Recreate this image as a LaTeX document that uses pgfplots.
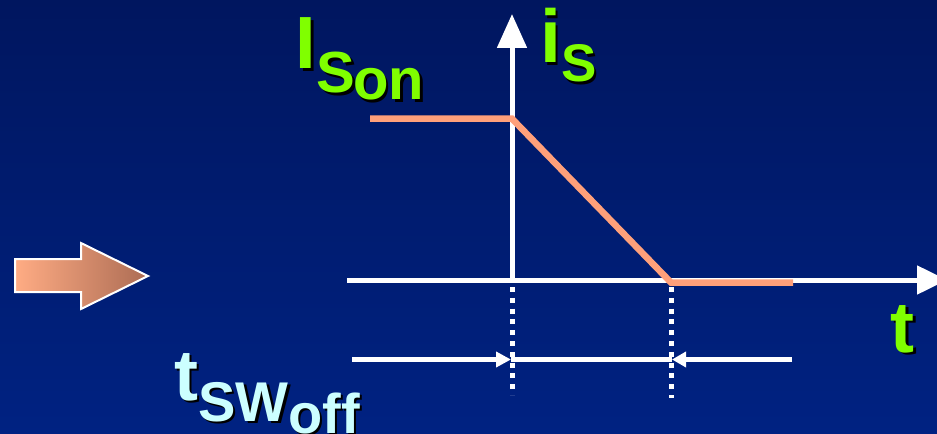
\documentclass[border=0pt]{standalone}
\usepackage{pgfplots}
\pgfplotsset{compat=1.18}
\usepackage{fontspec}
\setmainfont{Liberation Sans}
\usetikzlibrary{arrows.meta}
\definecolor{bgtop}{RGB}{0,22,95}
\definecolor{bgbot}{RGB}{0,34,130}
\definecolor{lgreen}{RGB}{128,255,0}
\definecolor{lcyan}{RGB}{204,255,255}
\definecolor{salmonline}{RGB}{255,160,122}
\definecolor{arrL}{RGB}{255,172,132}
\definecolor{arrR}{RGB}{172,108,84}
\newcommand{\shtext}[5]{%
  \node[anchor=base west,inner sep=0pt,text=black,xshift=2.5bp,yshift=-2.5bp] at (axis cs:#1,#2) {\fontsize{#3bp}{#3bp}\selectfont\bfseries #5};%
  \node[anchor=base west,inner sep=0pt,text=#4] at (axis cs:#1,#2) {\fontsize{#3bp}{#3bp}\selectfont\bfseries #5};%
}
\begin{document}
\begin{tikzpicture}
\begin{axis}[
  width=937bp, height=434bp, scale only axis,
  xmin=0, xmax=937, ymin=0, ymax=434, y dir=reverse,
  axis lines=none, clip=false,
  axis background/.style={top color=bgtop, bottom color=bgbot},
]
% bounding coordinates
\coordinate (ll) at (axis cs:0,434);
\coordinate (ur) at (axis cs:937,0);
% left block arrow
\shade[left color=arrL, right color=arrR, draw=white, line width=2bp, line join=miter]
  (axis cs:15,259) -- (axis cs:81,259) -- (axis cs:81,243) -- (axis cs:148,276)
  -- (axis cs:81,309) -- (axis cs:81,292) -- (axis cs:15,292) -- cycle;
% axes
\draw[white, line width=5bp, -{Triangle[length=30bp,width=28bp]}] (axis cs:347,280) -- (axis cs:947,280);
\draw[white, line width=5bp, -{Triangle[length=34bp,width=29bp]}] (axis cs:512,282) -- (axis cs:512,14);
% dotted markers
\draw[white, line width=5bp, dash pattern=on 5bp off 5.8bp] (axis cs:512,287) -- (axis cs:512,395);
\draw[white, line width=5bp, dash pattern=on 5bp off 5.8bp] (axis cs:671,287) -- (axis cs:671,398);
% measurement line
\draw[white, line width=4.5bp, -{Triangle[length=15bp,width=15bp]}] (axis cs:352,359.5) -- (axis cs:511,359.5);
\draw[white, line width=4.5bp] (axis cs:511,359.5) -- (axis cs:672,359.5);
\draw[white, line width=4.5bp, -{Triangle[length=14bp,width=15bp]}] (axis cs:792,359.5) -- (axis cs:672,359.5);
% switch current
\addplot[salmonline, line width=6.5bp, line join=miter] coordinates {(370,118.7) (512,118.7) (671,282.5) (793,282.5)};
% labels
\shtext{295.3}{69}{74}{lgreen}{I}
\shtext{316.7}{93}{58}{lgreen}{S}
\shtext{353}{100}{58}{lgreen}{on}
\shtext{540}{63}{75}{lgreen}{i}
\shtext{561}{82}{53}{lgreen}{S}
\shtext{890.5}{352}{72}{lgreen}{t}
\shtext{174}{400}{72}{lcyan}{t}
\shtext{198}{421}{56}{lcyan}{SW}
\shtext{288}{433}{56}{lcyan}{off}
\end{axis}
\pgfresetboundingbox
\useasboundingbox (ll) rectangle (ur);
\end{tikzpicture}
\end{document}
